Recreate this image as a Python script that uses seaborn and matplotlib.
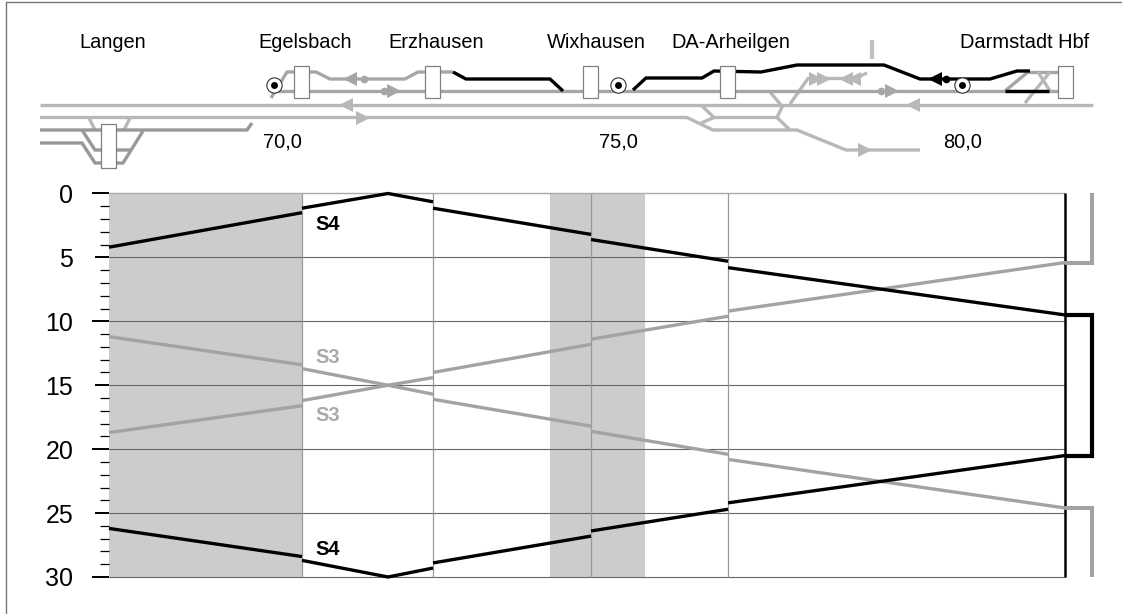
import matplotlib
matplotlib.use("Agg")
import matplotlib.pyplot as plt
import seaborn as sns
from matplotlib.patches import Rectangle

# ---------- timetable data: x in km, y in minutes ----------
KM_LANGEN, KM_EGELS, KM_PEAK, KM_ERZ, KM_WIX, KM_ARH, KM_DA = 67.474, 70.308, 71.571, 72.232, 74.552, 76.564, 81.512
KM_TURN = 81.909
station_km = [KM_EGELS, KM_ERZ, KM_WIX, KM_ARH]
shaded_km = [(KM_LANGEN, KM_EGELS), (73.950, 75.345)]
s4_north_km = [KM_LANGEN, KM_EGELS, KM_EGELS, KM_PEAK, KM_ERZ, KM_ERZ, KM_WIX, KM_WIX, KM_ARH, KM_ARH, KM_DA]
s4_north_min = [4.2, 1.5, 1.15, 0.0, 0.65, 1.15, 3.2, 3.6, 5.3, 5.8, 9.5]
s4_turn_km = [KM_DA, KM_TURN, KM_TURN, KM_DA]
s4_turn_min = [9.5, 9.5, 20.5, 20.5]
s4_south_km = [KM_DA, KM_ARH, KM_ARH, KM_WIX, KM_WIX, KM_ERZ, KM_ERZ, KM_PEAK, KM_EGELS, KM_EGELS, KM_LANGEN]
s4_south_min = [20.5, 24.2, 24.7, 26.4, 26.8, 28.9, 29.3, 30.0, 28.7, 28.4, 26.2]
s3_down_km = [KM_LANGEN, KM_EGELS, KM_EGELS, KM_PEAK, KM_ERZ, KM_ERZ, KM_WIX, KM_WIX, KM_ARH, KM_ARH, KM_DA]
s3_down_min = [11.2, 13.4, 13.7, 15.0, 15.7, 16.1, 18.2, 18.6, 20.4, 20.8, 24.6]
s3_down_end_km = [KM_DA, KM_TURN, KM_TURN]
s3_down_end_min = [24.6, 24.6, 30.0]
s3_up_km = [KM_LANGEN, KM_EGELS, KM_EGELS, KM_PEAK, KM_ERZ, KM_ERZ, KM_WIX, KM_WIX, KM_ARH, KM_ARH, KM_DA]
s3_up_min = [18.7, 16.6, 16.2, 15.0, 14.4, 14.0, 11.8, 11.4, 9.6, 9.2, 5.4]
s3_up_end_km = [KM_DA, KM_TURN, KM_TURN]
s3_up_end_min = [5.4, 5.4, 0.0]
line_labels = [("S4", 70.69, 2.46, "#000000"), ("S3", 70.69, 12.85, "#aaaaaa"), ("S3", 70.69, 17.4, "#aaaaaa"), ("S4", 70.69, 27.85, "#000000")]
major_ticks = [0, 5, 10, 15, 20, 25, 30]

# ---------- track diagram labels ----------
station_names = [("Langen", 112.5), ("Egelsbach", 305), ("Erzhausen", 436.5), ("Wixhausen", 596.5), ("DA-Arheilgen", 731), ("Darmstadt Hbf", 1024.5)]
km_labels = [("70,0", 282), ("75,0", 618.5), ("80,0", 962.5)]

# ---------- track diagram geometry, in diagram units ----------
LIGHT, MID, DARK, BLACK = "#b8b8b8", "#a6a6a6", "#989898", "#000000"
tracks = [
    (LIGHT, [(40, 104.5), (1093, 104.5)]),
    (LIGHT, [(40, 117.5), (687, 117.5), (713, 130), (797, 130), (846, 150), (920, 150)]),
    (LIGHT, [(701, 105), (714, 117.5), (777, 117.5), (790, 130)]),
    (LIGHT, [(701, 123), (714, 117.5)]),
    (LIGHT, [(777, 117.5), (783, 105)]),
    (LIGHT, [(770, 92), (781, 105)]),
    (LIGHT, [(790, 104), (808, 78.5), (855, 78.5), (867, 73)]),
    (LIGHT, [(89, 118), (95, 130)]),
    (LIGHT, [(130, 118), (124, 130)]),
    (DARK, [(40, 130), (247, 130), (252, 123)]),
    (DARK, [(40, 143), (82, 143), (95, 163), (123, 163), (143, 131)]),
    (DARK, [(82, 130), (95, 150), (130, 150)]),
    (MID, [(277, 91), (1058, 91)]),
    (MID, [(271, 98), (287, 72), (316, 72), (330, 79), (405, 79), (418, 72), (453, 72)]),
    (MID, [(1028, 72), (1058, 72)]),
    (BLACK, [(453, 72), (466, 79), (550, 79), (563, 91)]),
    (BLACK, [(633, 90), (646, 78), (702, 78), (714, 71), (761, 72), (797, 65), (884, 65), (920, 79), (990, 79), (1017, 71), (1030, 71)]),
    (BLACK, [(1005, 91), (1049, 91)]),
    (MID, [(1005, 91), (1028, 72)]),
    (LIGHT, [(1025, 103), (1050, 72)]),
    (LIGHT, [(1038, 72), (1050, 91)]),
]
arrows = [
    (LIGHT, "<", 346, 104.5), (LIGHT, "<", 913, 104.5), (LIGHT, ">", 363, 117.5), (LIGHT, ">", 865, 150),
    (MID, "<", 350, 79), (MID, ">", 394, 91), (MID, ">", 892, 91), (BLACK, "<", 935, 79),
    (LIGHT, ">", 816, 78.5), (LIGHT, ">", 824, 78.5),
    (LIGHT, "<", 846, 78.5), (LIGHT, "<", 854, 78.5),
]
dots = [(MID, 364, 79), (MID, 384, 91), (MID, 881, 91), (BLACK, 946, 79)]
signals = [(274, 85), (618, 85), (962, 85)]
boxes = [(101, 124, 15, 44), (294, 66, 15, 32), (425, 66, 15, 32), (583, 66, 15, 32), (720, 66, 15, 32), (1058, 66, 15, 32)]


def runs(xs, ys):
    """Split a path into pieces where the train stops at a station (same km twice)."""
    out, cur = [], [(xs[0], ys[0])]
    for x, y in zip(xs[1:], ys[1:]):
        if x == cur[-1][0]:
            out.append(cur)
            cur = []
        cur.append((x, y))
    out.append(cur)
    return out


# ---------- figure ----------
sns.set_theme(style="white")
plt.rcParams["font.family"] = ["Liberation Sans", "DejaVu Sans"]
W, H = 1122, 614
fig = plt.figure(figsize=(W / 100, H / 100), dpi=100, facecolor="white")
ax = fig.add_axes([109 / W, 1 - 577 / H, 956 / W, 383.5 / H])
ax.set_xlim(KM_LANGEN, KM_DA)
ax.set_ylim(30, 0)

for a, b in shaded_km:
    ax.axvspan(a, b, color="#cccccc", lw=0, zorder=0)
for m in major_ticks[1:]:
    ax.axhline(m, color="#666666", lw=0.8, zorder=1, clip_on=False)
for k in station_km:
    ax.axvline(k, color="#999999", lw=0.9, zorder=1)
ax.axhline(0, color="#aaaaaa", lw=1.0, zorder=1, clip_on=False)
ax.axvline(KM_DA, color="#000000", lw=1.8, zorder=2, clip_on=False)

for xs, ys, c, lw in [(s3_down_km, s3_down_min, "#a3a3a3", 2.4), (s3_up_km, s3_up_min, "#a3a3a3", 2.4),
                      (s4_north_km, s4_north_min, "#000000", 2.4), (s4_south_km, s4_south_min, "#000000", 2.4)]:
    for piece in runs(xs, ys):
        sns.lineplot(x=[p[0] for p in piece], y=[p[1] for p in piece], ax=ax, color=c, lw=lw,
                     estimator=None, sort=False, legend=False, zorder=3)
for xs, ys, c, lw in [(s3_down_end_km, s3_down_end_min, "#a3a3a3", 2.9), (s3_up_end_km, s3_up_end_min, "#a3a3a3", 2.9),
                      (s4_turn_km, s4_turn_min, "#000000", 3.0)]:
    sns.lineplot(x=xs, y=ys, ax=ax, color=c, lw=lw, estimator=None, sort=False, legend=False, zorder=3)
for ln in ax.get_lines():
    ln.set_clip_on(False)
    ln.set_solid_capstyle("butt")
    ln.set_solid_joinstyle("miter")

for txt, x, y, c in line_labels:
    ax.text(x, y, txt, color=c, fontsize=14.5, fontweight="bold", ha="center", va="center", zorder=4,
            family=["Liberation Sans Narrow", "Liberation Sans"])

for s in ax.spines.values():
    s.set_visible(False)
ax.set_xticks([])
ax.set_xlabel("")
ax.set_ylabel("")
ax.set_yticks(major_ticks)
ax.set_yticks(range(0, 31), minor=True)
ax.tick_params(axis="y", which="major", left=True, length=12.2, width=1.4, color="black", pad=13.5, labelsize=18, labelcolor="black")
ax.tick_params(axis="y", which="minor", left=True, length=6.5, width=0.9, color="black")
for tick, m in zip(ax.yaxis.get_major_ticks(), major_ticks):
    if m % 10:
        tick.tick1line.set_markersize(10.3)
ax.grid(False)

# overlay in diagram units
top = fig.add_axes([0, 0, 1, 1], facecolor="none")
top.set_xlim(0, W)
top.set_ylim(H, 0)
top.axis("off")
top.plot([6, 6], [2, H], color="#777777", lw=1.0)
top.plot([6, W], [2, 2], color="#777777", lw=1.0)
for c, pts in tracks:
    top.plot([p[0] for p in pts], [p[1] for p in pts], color=c, lw=2.4, solid_capstyle="butt", solid_joinstyle="miter", zorder=2 if c != BLACK else 3)
top.plot([872, 872], [40, 59], color="#c0c0c0", lw=3, solid_capstyle="butt")
for c, m, x, y in arrows:
    top.plot([x], [y], marker=m, color=c, ms=10, mew=0, zorder=4)
for c, x, y in dots:
    top.plot([x], [y], marker="o", color=c, ms=5.5, mew=0, zorder=4)
for x, y in signals:
    top.plot([x], [y], marker="o", mfc="white", mec="#333333", ms=11, mew=0.8, zorder=5)
    top.plot([x], [y], marker="o", color="black", ms=5, mew=0, zorder=6)
for x, y, w, h in boxes:
    top.add_patch(Rectangle((x, y), w, h, fc="white", ec="#808080", lw=0.9, zorder=5))
for name, x in station_names:
    top.text(x, 42, name, fontsize=14.4, ha="center", va="center", color="black")
for name, x in km_labels:
    top.text(x, 142, name, fontsize=14.4, ha="center", va="center", color="black")

fig.savefig("out.png", dpi=100)
